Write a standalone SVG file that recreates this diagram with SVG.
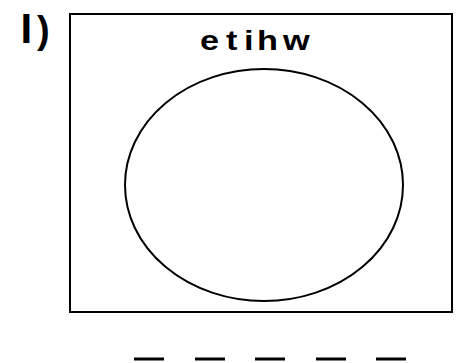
<svg xmlns="http://www.w3.org/2000/svg" width="460" height="363" viewBox="0 0 460 363">
<style>
.s{fill:none;stroke:#000;stroke-width:2}
.d{stroke:#000;stroke-width:3}
.t{font-family:"Liberation Sans",Arial,sans-serif;font-weight:bold;fill:#000}
</style>
<rect width="460" height="363" fill="#fff"/>
<text class="t" y="43" font-size="42"><tspan x="20.5">I</tspan><tspan x="37" font-size="38">)</tspan></text>
<g id="frame">
<rect class="s" x="70" y="14" width="382" height="298"/>
<text class="t" y="50.5" font-size="27" transform="scale(1.27,1)" x="157.5 178 192.1 202.4 222.8">etihw</text>
</g>
<g id="oval">
<ellipse class="s" cx="264" cy="185" rx="139" ry="116"/>
</g>
<g id="blanks">
<line class="d" x1="134" y1="359" x2="164" y2="359"/>
<line class="d" x1="195" y1="359" x2="225" y2="359"/>
<line class="d" x1="255" y1="359" x2="285" y2="359"/>
<line class="d" x1="316" y1="359" x2="346" y2="359"/>
<line class="d" x1="376" y1="359" x2="406" y2="359"/>
</g>
</svg>
